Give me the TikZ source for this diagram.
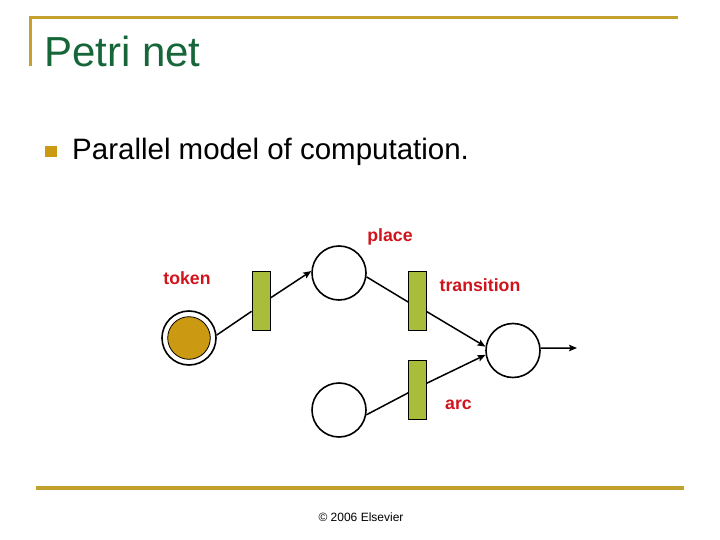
\documentclass[tikz,border=0pt]{standalone}
\usepackage{fontspec}
\setmainfont{Liberation Sans}
\usepackage{xcolor}
\usepackage{tikz}
\usetikzlibrary{arrows.meta}
\usetikzlibrary{shapes}

\definecolor{rulegold}{HTML}{C4A02C}
\definecolor{titlegreen}{HTML}{17663A}
\definecolor{tokengold}{HTML}{CC9912}
\definecolor{transgreen}{HTML}{AABD3A}
\definecolor{labelred}{HTML}{D0141C}

\tikzset{
    place/.style = {circle, draw = black, line width = 1.6pt, inner sep = 0pt,
        minimum size = 54pt, fill = white},
    transition/.style = {rectangle, draw = black, line width = 0.8pt, inner sep = 0pt,
        minimum width = 18pt, minimum height = 59pt, fill = transgreen},
    arc/.style = {line width = 1.5pt},
    tip/.style = {-{Stealth[length = 8pt, width = 6.5pt, inset = 1.5pt]}},
    label/.style = {text = labelred, font = \fontsize{17.7}{20}\selectfont\bfseries}
}

\begin{document}
\begin{tikzpicture}[x = 1pt, y = -1pt]
            \useasboundingbox (0, 0) rectangle (720, 540);

            % frame of the slide
            \draw[rulegold, line width = 3pt] (30, 66) -- (30, 18) -- (678, 18);
            \draw[rulegold, line width = 3.5pt] (36, 488) -- (684, 488);
            \node[text = titlegreen, anchor = base west, inner sep = 0pt,
                font = \fontsize{42}{48}\selectfont] (title) at (44, 67) {Petri net};
            \fill[tokengold] (45, 146) rectangle (56.5, 157.5);
            \node[anchor = base west, inner sep = 0pt,
                font = \fontsize{29.5}{34}\selectfont] (intro) at (72, 160) {Parallel model of computation.};
            \node[font = \fontsize{12}{14}\selectfont] (copy) at (361, 517) {© 2006 Elsevier};

            % the net
            \node[place] (tok) at (189, 338) {};
            \filldraw[color = black, fill = tokengold, line width = 0.8pt] (tok.center) circle (21.3pt);
            \node[transition] (t1) at (261, 300.5) {};
            \node[place] (p1) at (339, 273) {};
            \node[transition] (t2) at (417.5, 300.5) {};
            \node[transition] (t3) at (417.5, 390) {};
            \node[place] (p2) at (339, 410) {};
            \node[place] (p3) at (513, 350.5) {};
            \coordinate (out) at (577, 348);

            \draw[arc] (tok.6) -- (t1.229);
            \draw[arc, tip] (t1.15) -- (p1.176);
            \draw[arc] (p1.-8) -- (t2.189);
            \draw[arc, tip] (t2.-50) -- (p3.172);
            \draw[arc] (p2.-10) -- (t3.197);
            \draw[arc, tip] (t3.36) -- (p3.189);
            \draw[arc, tip] (p3.5) -- (out);

            \node[label] (lplace) at (390, 237) {place};
            \node[label] (ltoken) at (187, 278) {token};
            \node[label] (ltrans) at (480, 285) {transition};
            \node[label] (larc) at (458.5, 405) {arc};
        \end{tikzpicture}
\end{document}
